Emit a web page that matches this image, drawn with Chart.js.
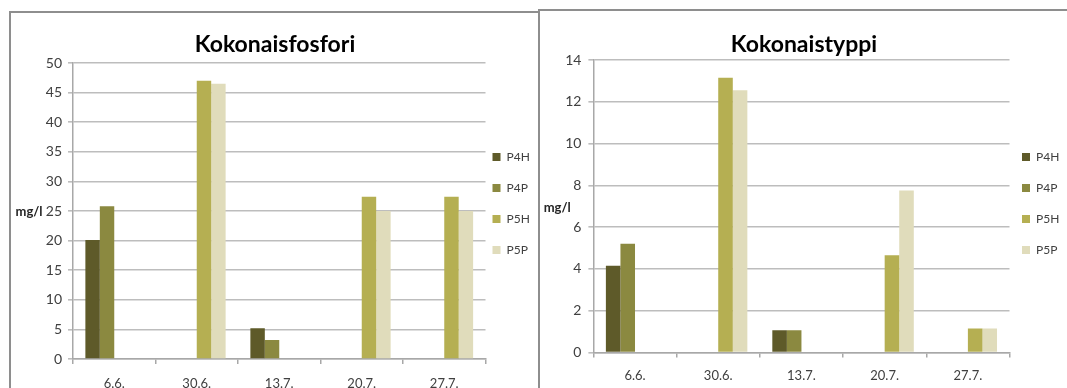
<!DOCTYPE html>
<html>
<head>
<meta charset="utf-8">
<script src="https://cdn.jsdelivr.net/npm/chart.js@4.4.1/dist/chart.umd.min.js"></script>
<style>
  html, body { margin: 0; padding: 0; background: #ffffff; }
  body { width: 1067px; height: 388px; position: relative; overflow: hidden; }
  .panel { position: absolute; border-left: 2px solid #8e8e8e; border-top: 2px solid #8e8e8e; box-sizing: content-box; overflow: hidden; }
  canvas { display: block; }
</style>
</head>
<body>
<div class="panel" id="panelP" style="left:9px; top:11px; width:528px; height:375px;">
  <canvas id="chartP" width="528" height="375"></canvas>
</div>
<div class="panel" id="panelN" style="left:538px; top:9px; width:560px; height:377px;">
  <canvas id="chartN" width="527" height="377"></canvas>
</div>
<script>
// Sampling dates
const categories = ['6.6.', '30.6.', '13.7.', '20.7.', '27.7.'];
const seriesNames = ['P4H', 'P4P', 'P5H', 'P5P'];
const seriesColors = ['#5e5a29', '#8b8940', '#b5af52', '#e0dcbb'];

// Total phosphorus (mg/l)
const fosforiP4H = [20.1, null, 5.2, null, null];
const fosforiP4P = [25.8, null, 3.2, null, null];
const fosforiP5H = [null, 47.0, null, 27.4, 27.4];
const fosforiP5P = [null, 46.5, null, 25.0, 25.0];
const fosforiTicks = [0, 5, 10, 15, 20, 25, 30, 35, 40, 45, 50];

// Total nitrogen (mg/l)
const typpiP4H = [4.15, null, 1.07, null, null];
const typpiP4P = [5.2, null, 1.07, null, null];
const typpiP5H = [null, 13.15, null, 4.65, 1.15];
const typpiP5P = [null, 12.55, null, 7.75, 1.15];
const typpiTicks = [0, 2, 4, 6, 8, 10, 12, 14];

const FONT = 'Lato, "Open Sans", "DejaVu Sans", sans-serif';
const GRID = '#bdbdbd';
const AXIS = '#a8a8a8';

// Puts the legend and title where they belong and writes the unit label.
const placement = {
  id: 'placement',
  afterLayout(chart, args, opts) {
    const lg = chart.legend;
    if (lg) {
      const pad = lg.options.labels.padding;
      const w = lg.width, h = lg.height;
      lg.left = opts.legendX - pad; lg.right = lg.left + w;
      lg.top = opts.legendY - pad; lg.bottom = lg.top + h;
    }
    const tb = chart.titleBlock;
    if (tb) {
      const half = (tb.right - tb.left) / 2;
      tb.left = opts.titleX - half; tb.right = opts.titleX + half;
    }
  },
  afterDraw(chart, args, opts) {
    const ctx = chart.ctx;
    ctx.save();
    ctx.font = 'bold 13px ' + FONT;
    ctx.fillStyle = '#262626';
    ctx.textAlign = 'left';
    ctx.textBaseline = 'middle';
    ctx.fillText(opts.unit, opts.unitX, opts.unitY);
    ctx.restore();
  }
};

function makeChart(id, title, series, ticks, geo) {
  const datasets = seriesNames.map((name, i) => ({
    label: name,
    data: series[i],
    backgroundColor: seriesColors[i],
    borderWidth: 0,
    categoryPercentage: 0.70,
    barPercentage: 1.0
  }));
  const tickMax = ticks[ticks.length - 1];
  const tickStep = ticks[1] - ticks[0];
  return new Chart(document.getElementById(id), {
    type: 'bar',
    data: { labels: categories, datasets },
    plugins: [placement],
    options: {
      responsive: false,
      animation: false,
      devicePixelRatio: 1,
      layout: { padding: { left: 0, right: geo.padRight, top: 0, bottom: 0 } },
      plugins: {
        title: {
          display: true,
          text: title,
          color: '#000000',
          font: { family: FONT, size: 23, weight: 'bold' },
          padding: { top: geo.titleTop, bottom: geo.titleBottom }
        },
        legend: {
          display: true,
          position: 'chartArea',
          align: 'start',
          labels: {
            boxWidth: 8,
            boxHeight: 8,
            padding: 19,
            color: '#404040',
            font: { family: FONT, size: 12 }
          }
        },
        tooltip: { enabled: false },
        placement: {
          legendX: geo.legendX, legendY: geo.legendY,
          titleX: geo.titleX,
          unit: 'mg/l', unitX: geo.unitX, unitY: geo.unitY
        }
      },
      scales: {
        x: {
          offset: true,
          grid: { display: true, drawOnChartArea: false, drawTicks: true, tickLength: 5, color: AXIS, lineWidth: 1.5, offset: true },
          border: { display: true, color: AXIS, width: 1.5 },
          ticks: { color: '#404040', font: { family: FONT, size: 13 }, padding: geo.xPad, maxRotation: 0 },
          afterFit(scale) { scale.height = geo.xHeight; }
        },
        y: {
          min: 0,
          max: tickMax,
          grid: { color: GRID, lineWidth: 1.6, tickLength: 5, drawTicks: true },
          border: { display: true, color: AXIS, width: 1.5 },
          ticks: {
            stepSize: tickStep,
            color: '#404040',
            font: { family: FONT, size: 14 },
            padding: geo.yPad,
            callback: (v) => ticks.includes(v) ? String(v) : ''
          },
          afterFit(scale) { scale.width = geo.yWidth; }
        }
      }
    }
  });
}

makeChart('chartP', 'Kokonaisfosfori',
  [fosforiP4H, fosforiP4P, fosforiP5H, fosforiP5P], fosforiTicks,
  { padRight: 53.5, yWidth: 62, xHeight: 29, xPad: 12, yPad: 6,
    titleTop: 18, titleBottom: 4.4, titleX: 264,
    legendX: 481.5, legendY: 138, unitX: 4.5, unitY: 199 });

makeChart('chartN', 'Kokonaistyppi',
  [typpiP4H, typpiP4P, typpiP5H, typpiP5P], typpiTicks,
  { padRight: 57.5, yWidth: 53.4, xHeight: 35.5, xPad: 10.5, yPad: 7,
    titleTop: 20, titleBottom: 1.4, titleX: 264,
    legendX: 482, legendY: 140, unitX: 3.7, unitY: 197 });
</script>
</body>
</html>
